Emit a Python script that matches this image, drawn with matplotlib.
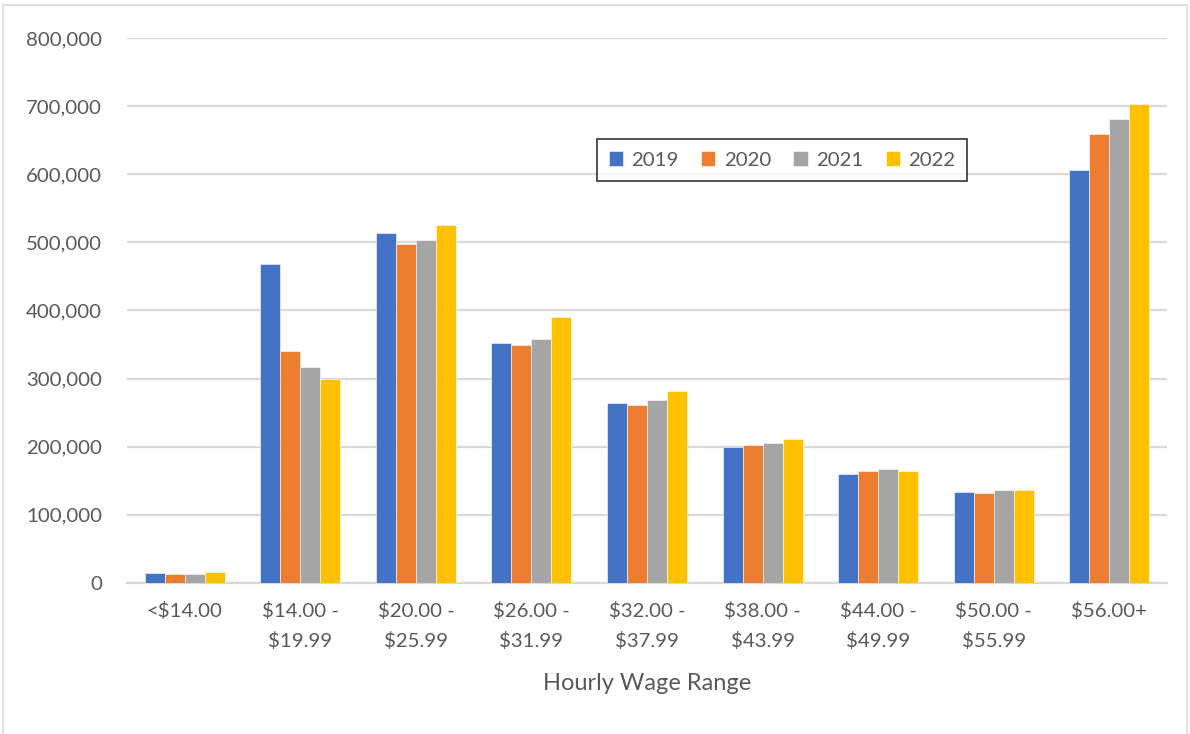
import matplotlib
matplotlib.use("Agg")
import matplotlib.pyplot as plt
from matplotlib.patches import Rectangle
from matplotlib.ticker import FuncFormatter
import numpy as np

categories = ["<$14.00", "$14.00 -\n$19.99", "$20.00 -\n$25.99", "$26.00 -\n$31.99",
              "$32.00 -\n$37.99", "$38.00 -\n$43.99", "$44.00 -\n$49.99",
              "$50.00 -\n$55.99", "$56.00+"]
years = ["2019", "2020", "2021", "2022"]
v2019 = [15200, 468600, 513700, 352000, 264200, 200000, 159800, 134300, 605900]
v2020 = [13200, 340700, 498000, 349000, 261300, 202000, 164200, 132800, 659000]
v2021 = [13700, 317200, 503900, 358800, 268600, 205400, 166700, 137000, 681000]
v2022 = [15700, 300000, 525500, 390700, 281400, 211300, 164700, 136000, 703400]
colors = ["#4472C4", "#ED7D31", "#A5A5A5", "#FFC000"]

plt.rcParams['font.family'] = ['Lato', 'DejaVu Sans']

fig = plt.figure(figsize=(11.9, 7.34), dpi=100)
ax = fig.add_axes([127/1190, (734-583)/734, (1167-127)/1190, (583-38)/734])

x = np.arange(len(categories))
w = 0.173
series = [v2019, v2020, v2021, v2022]
for i, (vals, c, lab) in enumerate(zip(series, colors, years)):
    ax.bar(x + (i - 1.5) * w, vals, width=w, color=c, label=lab,
           edgecolor='white', linewidth=0.4, zorder=3)

ax.set_xlim(-0.5, len(categories) - 0.5)
ax.set_ylim(0, 800000)
ax.set_yticks(np.arange(0, 800001, 100000))
ax.yaxis.set_major_formatter(FuncFormatter(lambda v, p: f"{int(v):,}"))
ax.grid(axis='y', color='#D9D9D9', linewidth=1.6, zorder=0)
for s in ['top', 'right', 'left']:
    ax.spines[s].set_visible(False)
ax.spines['bottom'].set_color('#D9D9D9')
ax.spines['bottom'].set_linewidth(1.6)
ax.tick_params(axis='both', length=0, colors='#595959', labelsize=14.7)
ax.tick_params(axis='y', pad=18)
ax.tick_params(axis='x', pad=14)
ax.set_xticks(x)
ax.set_xticklabels(categories, linespacing=1.75)
ax.set_xlabel("Hourly Wage Range", fontsize=17, color='#595959', labelpad=17)

leg = ax.legend(loc='center', bbox_to_anchor=((601+963)/2/1190, (734-160)/734),
                bbox_transform=fig.transFigure, ncol=4, fontsize=14.7,
                frameon=True, fancybox=False, edgecolor='black',
                handlelength=0.7, handleheight=0.7, handletextpad=0.4,
                columnspacing=1.1, borderpad=0.6)
leg.get_frame().set_linewidth(1.2)
for t in leg.get_texts():
    t.set_color('#595959')

fig.patches.append(Rectangle((3/1190, -0.01), 1184/1190, 1 - 5/734 + 0.01,
                             transform=fig.transFigure, fill=False,
                             edgecolor='#D9D9D9', linewidth=1.2))

fig.savefig("out.png", dpi=100)
